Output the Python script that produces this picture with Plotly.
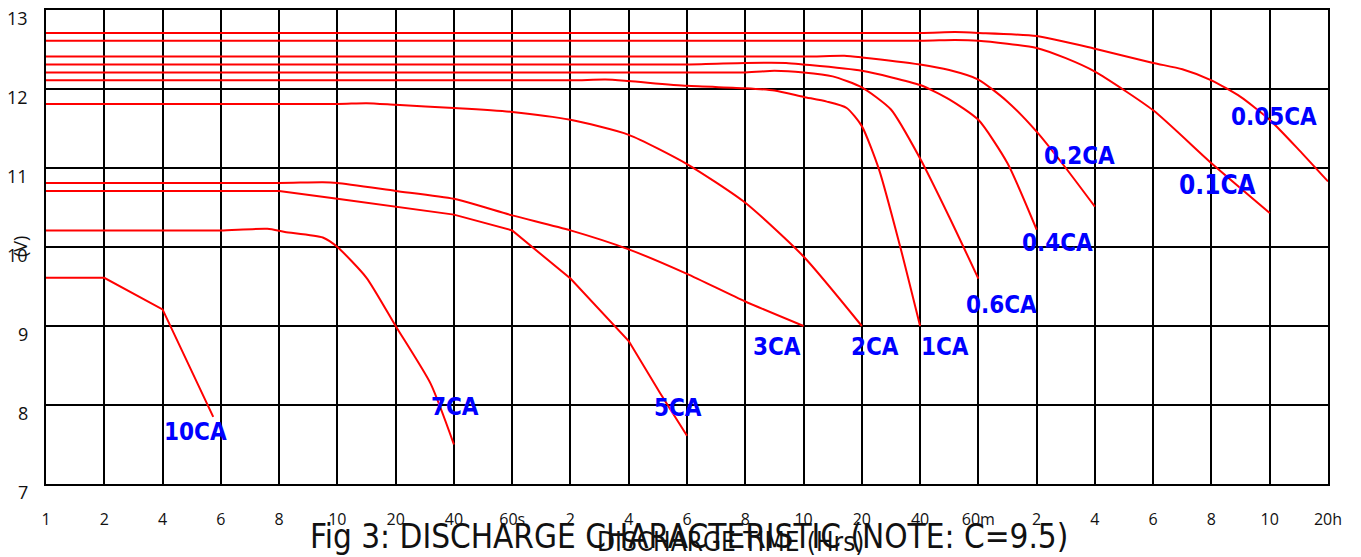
import plotly.graph_objects as go

# ---- data ----
tick_labels = ["1", "2", "4", "6", "8", "10", "20", "40", "60s", "2", "4", "6", "8",
               "10", "20", "40", "60m", "2", "4", "6", "8", "10", "20h"]
y_ticks = [7, 8, 9, 10, 11, 12, 13]

# x values are positions on the (non-uniform) time scale, measured in tick steps
c10_x = [0, 1, 2, 2.87]
c10_y = [9.61, 9.61, 9.21, 7.85]

c7_x = [0, 1, 2, 3, 3.8, 4.1, 4.75, 5, 5.5, 6, 6.6, 7]
c7_y = [10.21, 10.21, 10.21, 10.21, 10.23, 10.19, 10.12, 10.0, 9.61, 9.0, 8.27, 7.5]

c5_x = [0, 4, 5, 6, 7, 8, 9, 10, 10.54, 11]
c5_y = [10.71, 10.71, 10.61, 10.51, 10.41, 10.21, 9.6, 8.81, 8.15, 7.61]

c3_x = [0, 4, 4.75, 5, 6, 7, 8, 9, 10, 11, 12, 13]
c3_y = [10.81, 10.81, 10.82, 10.81, 10.71, 10.61, 10.40, 10.21, 9.97, 9.66, 9.31, 9.0]

c2_x = [0, 5, 5.5, 6, 7, 8, 9, 10, 11, 12, 13, 14]
c2_y = [11.81, 11.81, 11.82, 11.80, 11.76, 11.71, 11.61, 11.42, 11.05, 10.56, 9.88, 9.0]

c1_x = [0, 9, 9.6, 10, 11, 12, 12.5, 13, 13.4, 13.74, 14.0, 14.3, 14.66, 15]
c1_y = [12.11, 12.11, 12.12, 12.10, 12.04, 12.01, 11.98, 11.90, 11.84, 11.76, 11.53, 10.97, 10.0, 9.0]

c06_x = [0, 12, 12.5, 13, 13.5, 14, 14.5, 15, 15.5, 16]
c06_y = [12.21, 12.21, 12.23, 12.21, 12.16, 12.02, 11.74, 11.12, 10.38, 9.6]

c04_x = [0, 11, 12, 12.7, 13, 14, 15, 15.5, 16, 16.5, 17]
c04_y = [12.31, 12.31, 12.33, 12.33, 12.31, 12.23, 12.05, 11.87, 11.61, 11.06, 10.22]

c02_x = [0, 13, 13.7, 14, 15, 15.5, 16, 16.5, 17, 17.5, 18]
c02_y = [12.41, 12.41, 12.42, 12.40, 12.31, 12.24, 12.12, 11.84, 11.46, 11.0, 10.51]

c01_x = [0, 15, 15.6, 16, 17, 17.5, 18, 19, 20, 21]
c01_y = [12.61, 12.61, 12.62, 12.61, 12.52, 12.39, 12.22, 11.73, 11.06, 10.43]

c005_x = [0, 15, 15.6, 16, 17, 18, 19, 19.5, 20, 20.5, 21, 21.5, 22]
c005_y = [12.71, 12.71, 12.72, 12.71, 12.67, 12.51, 12.33, 12.25, 12.11, 11.9, 11.61, 11.23, 10.83]

series_names = ["10CA", "7CA", "5CA", "3CA", "2CA", "1CA", "0.6CA", "0.4CA", "0.2CA", "0.1CA", "0.05CA"]
series_x = [c10_x, c7_x, c5_x, c3_x, c2_x, c1_x, c06_x, c04_x, c02_x, c01_x, c005_x]
series_y = [c10_y, c7_y, c5_y, c3_y, c2_y, c1_y, c06_y, c04_y, c02_y, c01_y, c005_y]

# label placement (layout, not data)
label_pos = {
    "10CA": (2.56, 7.66), "7CA": (7.02, 7.97), "5CA": (10.85, 7.96),
    "3CA": (12.54, 8.73), "2CA": (14.23, 8.73), "1CA": (15.43, 8.73),
    "0.6CA": (16.39, 9.27), "0.4CA": (17.35, 10.05), "0.2CA": (17.74, 11.15),
    "0.1CA": (20.11, 10.78), "0.05CA": (21.07, 11.65),
}
straight = {"10CA", "5CA"}

# page has an 8px body margin; figure is sized/positioned to compensate
OFF = 8
W, H = 1361 - OFF, 557 - OFF
ML, MR, MT, MB = 46 - OFF, 33, 10 - OFF, 73
PW = W - ML - MR
PH = H - MT - MB


def px_x(px):
    return (px - OFF - ML) / PW


def px_y(py):
    return ((H - MB) - (py - OFF)) / PH


fig = go.Figure()
for name, xs, ys in zip(series_names, series_x, series_y):
    fig.add_trace(go.Scatter(
        x=xs, y=ys, mode="lines", name=name, showlegend=False,
        line=dict(color="#ff0000", width=2,
                  shape="linear" if name in straight else "spline",
                  smoothing=0.6 if name not in straight else None),
        hoverinfo="skip",
    ))

label_font = "DejaVu Sans Condensed, Liberation Sans Narrow, sans-serif"
for name in series_names:
    lx, ly = label_pos[name]
    fig.add_annotation(x=lx, y=ly, xref="x", yref="y", text=name, showarrow=False,
                       xanchor="center", yanchor="middle",
                       font=dict(family=label_font, size=26 if name == "0.1CA" else 24,
                                 color="#0000ff", weight="bold"))

# y tick labels (sit slightly below their gridlines, as in the reference)
for v in y_ticks:
    fig.add_annotation(x=px_x(30), y=v, xref="paper", yref="y", text=str(v),
                       showarrow=False, xanchor="right", yanchor="middle", yshift=-8,
                       font=dict(family="Open Sans, sans-serif", size=18, color="#111"))

# y-axis title overlapping tick labels
fig.add_annotation(x=px_x(20), y=10.0, xref="paper", yref="y", text="(V)",
                   textangle=-90, showarrow=False, xanchor="center", yanchor="middle",
                   font=dict(family="Open Sans, sans-serif", size=18, color="#111"))
# x-axis title
fig.add_annotation(x=px_x(731), y=px_y(542), xref="paper", yref="paper",
                   text="DISCHARGE TIME (Hrs)", showarrow=False,
                   xanchor="center", yanchor="middle",
                   font=dict(family=label_font, size=26, color="#111"))
# figure caption
fig.add_annotation(x=px_x(689), y=px_y(536), xref="paper", yref="paper",
                   text="Fig 3: DISCHARGE CHARACTERISTIC (NOTE: C=9.5)", showarrow=False,
                   xanchor="center", yanchor="middle",
                   font=dict(family=label_font, size=33, color="#111"))

fig.update_layout(
    width=W, height=H, margin=dict(l=ML, r=MR, t=MT, b=MB, autoexpand=False),
    paper_bgcolor="white", plot_bgcolor="white",
    xaxis=dict(range=[0, 22], tickmode="array", tickvals=list(range(len(tick_labels))),
               ticktext=tick_labels, showgrid=True, gridcolor="#000", gridwidth=2,
               zeroline=False, showline=True, linecolor="#000", linewidth=2, mirror=True,
               ticks="", ticklabelstandoff=20, automargin=False,
               tickfont=dict(family="Open Sans, sans-serif", size=16, color="#111")),
    yaxis=dict(range=[7, 13], tickmode="array", tickvals=y_ticks, showticklabels=False,
               showgrid=True, gridcolor="#000", gridwidth=2, automargin=False,
               zeroline=False, showline=True, linecolor="#000", linewidth=2, mirror=True,
               ticks="inside", ticklen=8, tickwidth=2, tickcolor="#000"),
)

fig.write_html("out.html")
